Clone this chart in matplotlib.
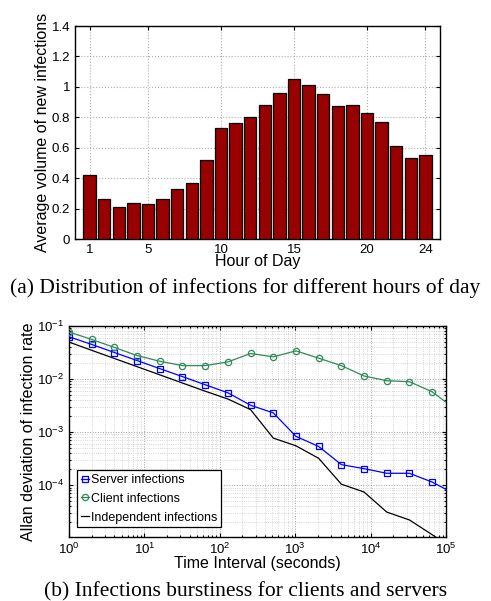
import numpy as np
import matplotlib
matplotlib.use("Agg")
import matplotlib.pyplot as plt
from matplotlib.ticker import LogLocator, NullFormatter

# (a) hourly infections
hours = list(range(1, 25))
volume = [0.42, 0.26, 0.21, 0.24, 0.23, 0.26, 0.33, 0.37, 0.52, 0.73, 0.76, 0.80,
          0.88, 0.96, 1.055, 1.015, 0.95, 0.875, 0.88, 0.83, 0.77, 0.61, 0.53, 0.555]
hour_ticks = [1, 5, 10, 15, 20, 24]

# (b) allan deviation vs time interval (powers of 2)
tau = [2 ** k for k in range(18)]
server = [0.0626, 0.0449, 0.0316, 0.0223, 0.0157, 0.0111, 0.0078, 0.0055, 0.0032,
          0.0023, 0.00083, 0.000535, 0.000243, 0.000204, 0.000167, 0.000167,
          0.000114, 6.8e-5]
client = [0.0769, 0.0558, 0.0394, 0.0277, 0.0216, 0.0179, 0.0179, 0.0210, 0.0303,
          0.0262, 0.0340, 0.0247, 0.0179, 0.0114, 0.0093, 0.0089, 0.00574, 0.00274]
indep = [0.0497, 0.0348, 0.0244, 0.0171, 0.0120, 0.0084, 0.0059, 0.0042, 0.00265,
         0.00077, 0.00055, 0.00032, 0.000104, 7.4e-5, 3.1e-5, 2.2e-5, 1.16e-5, 6e-6]

plt.rcParams['font.family'] = ['Liberation Sans', 'DejaVu Sans']
plt.rcParams['mathtext.fontset'] = 'custom'
plt.rcParams['mathtext.rm'] = 'Liberation Sans'
plt.rcParams['xtick.direction'] = 'in'
plt.rcParams['ytick.direction'] = 'in'
plt.rcParams['xtick.top'] = True
plt.rcParams['ytick.right'] = True

fig = plt.figure(figsize=(4.91, 6.01), dpi=100)

ax1 = fig.add_axes([0.1527, 0.6023, 0.7434, 0.3544])
ax1.bar(hours, volume, width=0.85, color='#990000', edgecolor='black', linewidth=0.9, zorder=3)
ax1.set_xlim(0, 25)
ax1.set_ylim(0, 1.4)
ax1.set_xticks(hour_ticks)
ax1.set_yticks(np.arange(0, 1.41, 0.2))
ax1.set_yticklabels(['0', '0.2', '0.4', '0.6', '0.8', '1', '1.2', '1.4'])
ax1.grid(True, linestyle=':', color='#b0b0b0', linewidth=0.8)
ax1.tick_params(labelsize=9.5, length=3, width=0.8)
ax1.set_xlabel('Hour of Day', fontsize=11.5, labelpad=-1)
ax1.set_ylabel('Average volume of new infections', fontsize=11.5, labelpad=1)
for s in ax1.spines.values():
    s.set_linewidth(1.0)
fig.text(0.5, 1 - 288 / 601, '(a) Distribution of infections for different hours of day',
         ha='center', va='center', fontsize=15.5, family='Liberation Serif')

ax2 = fig.add_axes([0.1405, 0.1065, 0.7678, 0.3511])
ax2.set_xscale('log')
ax2.set_yscale('log')
ax2.plot(tau, server, color='#0000ff', marker='s', markersize=4, markerfacecolor='none',
         markeredgewidth=0.9, linewidth=0.9, label='Server infections', zorder=3)
ax2.plot(tau, client, color='#2e8b57', marker='o', markersize=4.5, markerfacecolor='none',
         markeredgewidth=0.9, linewidth=0.9, label='Client infections', zorder=3)
ax2.plot(tau, indep, color='black', linewidth=0.9, label='Independent infections', zorder=3)
ax2.set_xlim(1, 1e5)
ax2.set_ylim(1.05e-5, 0.1)
ax2.set_yticks([1e-4, 1e-3, 1e-2, 1e-1])
ax2.yaxis.set_minor_locator(LogLocator(base=10, subs=np.arange(2, 10)))
ax2.yaxis.set_minor_formatter(NullFormatter())
ax2.xaxis.set_minor_formatter(NullFormatter())
ax2.grid(True, which='major', linestyle=':', color='#a0a0a0', linewidth=0.7)
ax2.grid(True, which='minor', linestyle=':', color='#c8c8c8', linewidth=0.6)
ax2.tick_params(which='both', labelsize=9.5, width=0.8)
ax2.tick_params(which='major', length=3)
ax2.tick_params(which='minor', length=1.5)
ax2.set_xlabel('Time Interval (seconds)', fontsize=11.5, labelpad=-1)
ax2.set_ylabel('Allan deviation of infection rate', fontsize=11.5, labelpad=1)
for s in ax2.spines.values():
    s.set_linewidth(1.0)
leg = ax2.legend(loc='lower left', fontsize=9, handlelength=0.7, handletextpad=0.15,
                 borderpad=0.3, labelspacing=0.55, borderaxespad=0, fancybox=False,
                 framealpha=1, edgecolor='black', bbox_to_anchor=(0.021, 0.045))
leg.get_frame().set_linewidth(0.9)
fig.text(0.5, 1 - 592 / 601, '(b) Infections burstiness for clients and servers',
         ha='center', va='center', fontsize=15.5, family='Liberation Serif')

fig.savefig('out.png', dpi=100)
